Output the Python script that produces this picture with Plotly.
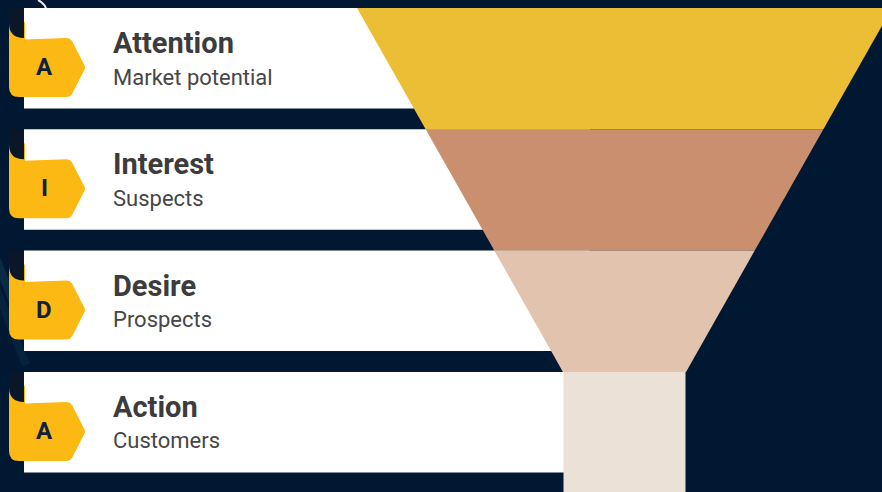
import plotly.graph_objects as go

# ---- data ----
letters = ["A", "I", "D", "A"]
stages = ["Attention", "Interest", "Desire", "Action"]
subtitles = ["Market potential", "Suspects", "Prospects", "Customers"]
funnel_colors = ["#EBBE35", "#C98F6E", "#E2C3AE", "#ECE1D7"]

W, H = 882, 492
BG = "#011833"
TAG = "#FDB913"
FOLD = "#0a1729"

top0, pitch, bar_h = 8.0, 121.3, 100.5
bar_x0, bar_x1 = 24, 590
cx = 624.5
slope = 0.566
half_top = cx - 357
stem_half = 61

fig = go.Figure()
shapes = []
annotations = []

# subtle background swooshes on the left
for op, dy in [(0.16, 0), (0.10, 30)]:
    shapes.append(dict(type="path", xref="x", yref="y",
                       path=f"M -5,{255+dy} Q 12,{300+dy} 26,{335+dy}",
                       line=dict(color=f"rgba(60,140,170,{op})", width=8), layer="below"))
shapes.append(dict(type="path", xref="x", yref="y",
                   path="M 38,0 Q 46,4 47,12",
                   line=dict(color="rgba(255,255,255,0.9)", width=2), layer="below"))

# white bars, tags, texts
for i in range(len(stages)):
    t = top0 + i * pitch
    b = t + bar_h
    shapes.append(dict(type="rect", xref="x", yref="y", x0=bar_x0, x1=bar_x1, y0=t, y1=b,
                       fillcolor="white", line=dict(width=0), layer="below"))
    tt = t + 30
    tb = t + 89
    tm = (tt + tb) / 2
    shapes.append(dict(type="rect", xref="x", yref="y", x0=9, x1=25, y0=t + 14, y1=tt + 4,
                       fillcolor=TAG, line=dict(width=0), layer="below"))
    p = (f"M 9,{tt+2} L 66,{tt} Q 70,{tt} 72,{tt+3} L 84,{tm-3} Q 86,{tm} 84,{tm+3} "
         f"L 72,{tb-3} Q 70,{tb} 66,{tb} L 19,{tb} Q 9,{tb} 9,{tb-10} Z")
    shapes.append(dict(type="path", xref="x", yref="y", path=p,
                       fillcolor=TAG, line=dict(width=0), layer="below"))
    shapes.append(dict(type="path", xref="x", yref="y",
                       path=f"M 9,{t} L 24,{t} L 24,{tt} Q 9,{tt} 9,{tt-15} Z",
                       fillcolor=FOLD, line=dict(width=0), layer="below"))
    annotations.append(dict(x=44, y=tm - 0.5, xref="x", yref="y", text=letters[i],
                            showarrow=False, xanchor="center", yanchor="middle",
                            font=dict(family="Roboto", size=24, color="#10203a", weight=700)))
    annotations.append(dict(x=111, y=t + 35, xref="x", yref="y", text=stages[i],
                            showarrow=False, xanchor="left", yanchor="middle",
                            font=dict(family="Roboto", size=29, color="#3c3c3c", weight=700)))
    annotations.append(dict(x=111, y=t + 69, xref="x", yref="y", text=subtitles[i],
                            showarrow=False, xanchor="left", yanchor="middle",
                            font=dict(family="Roboto", size=22, color="#464646")))

# funnel segments
n = len(funnel_colors)
for i in range(n):
    y0 = top0 + i * pitch
    if i < n - 1:
        y1 = top0 + (i + 1) * pitch
        h0 = half_top - (y0 - top0) * slope
        h1 = half_top - (y1 - top0) * slope
        xs = [cx - h0, cx + h0, cx + h1, cx - h1, cx - h0]
        ys = [y0, y0, y1, y1, y0]
    else:
        y1 = H + 5
        xs = [cx - stem_half, cx + stem_half, cx + stem_half, cx - stem_half, cx - stem_half]
        ys = [y0, y0, y1, y1, y0]
    fig.add_trace(go.Scatter(x=xs, y=ys, mode="lines", fill="toself",
                             fillcolor=funnel_colors[i], line=dict(width=0),
                             hoverinfo="skip", showlegend=False))

fig.update_layout(
    width=W, height=H, margin=dict(l=0, r=0, t=0, b=0),
    paper_bgcolor=BG, plot_bgcolor=BG,
    xaxis=dict(range=[0, W], visible=False, fixedrange=True),
    yaxis=dict(range=[H, 0], visible=False, fixedrange=True),
    shapes=shapes, annotations=annotations, showlegend=False,
)
fig.write_html("out.html")
